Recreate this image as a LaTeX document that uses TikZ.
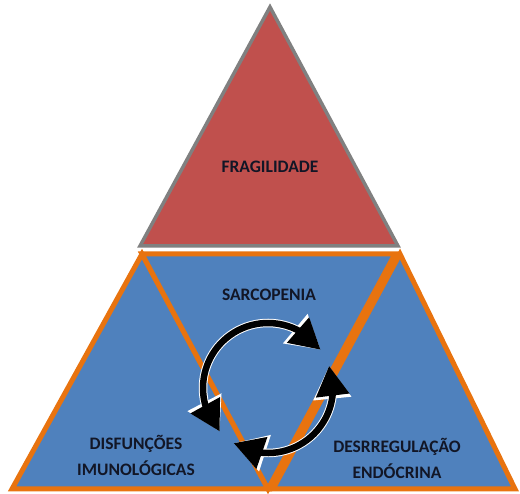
\documentclass[tikz,border=0pt]{standalone}
\usepackage{fontspec}
\setmainfont{Carlito}
\usetikzlibrary{arrows.meta,bending}
\definecolor{frred}{HTML}{C0504D}
\definecolor{frblue}{HTML}{4F81BD}
\definecolor{frorange}{HTML}{E8730F}
\definecolor{frgray}{HTML}{808080}
\definecolor{frtext}{HTML}{121626}

\begin{document}
\begin{tikzpicture}[x=1pt,y=-1pt,
  rt/.style={fill=frred,draw=frgray,line width=3.5pt},
  bt/.style={fill=frblue,draw=frorange,line width=5pt},
  l/.style={font=\bfseries\fontsize{17.5}{26}\selectfont,align=center,text=frtext,inner sep=0pt},
  c/.style={line width=6.5pt,{Triangle[length=30pt,width=32pt]}-{Triangle[length=30pt,width=32pt]}},
  cw/.style={white,line width=8.5pt,{Triangle[length=33pt,width=36pt]}-{Triangle[length=33pt,width=36pt]}}]
\useasboundingbox (0,0) rectangle (520,494);
% vertices
\coordinate (ft) at (270,7);
\coordinate (fl) at (140,246);
\coordinate (fr) at (398,246);
\coordinate (ul) at (142,254);
\coordinate (ur) at (395,254);
\coordinate (ur2) at (400,254);
\coordinate (bl) at (12,489);
\coordinate (bm) at (268,489);
\coordinate (bm2) at (273,489);
\coordinate (br) at (515,489);
\coordinate (cc) at (268,388);
% triangles
\draw[rt] (ft) -- (fr) -- (fl) -- cycle;
\draw[bt] (bl) -- (ul) -- (bm) -- cycle;
\draw[bt] (ul) -- (ur) -- (bm) -- cycle;
\draw[bt] (bm2) -- (ur2) -- (br) -- cycle;
% labels
\node[l] (frag) at (270,167) {FRAGILIDADE};
\node[l] (sarc) at (269,295) {SARCOPENIA};
\node[l] (imun) at (136,455) {DISFUNÇÕES\\IMUNOLÓGICAS};
\node[l] (endo) at (397,458) {DESRREGULAÇÃO\\ENDÓCRINA};
% cycle
\draw[cw] ([shift={(-36:65)}]cc) arc[start angle=-36,end angle=-222,radius=65];
\draw[cw] ([shift={(-238:65)}]cc) arc[start angle=-238,end angle=-380,radius=65];
\draw[c] ([shift={(-36:65)}]cc) arc[start angle=-36,end angle=-222,radius=65];
\draw[c] ([shift={(-238:65)}]cc) arc[start angle=-238,end angle=-380,radius=65];
\end{tikzpicture}
\end{document}
